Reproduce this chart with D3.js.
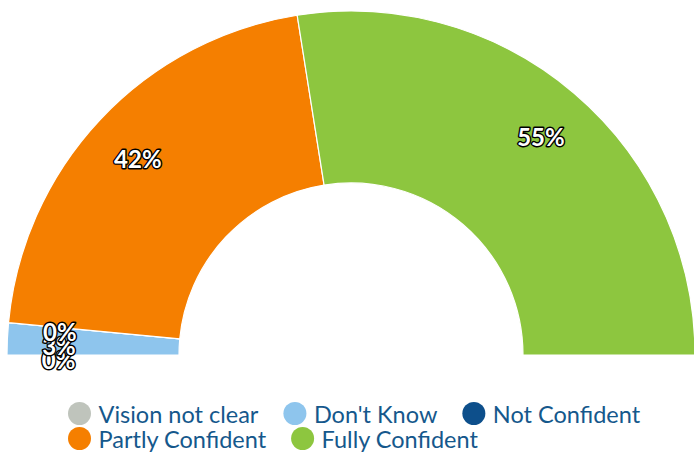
<!DOCTYPE html>
<html><head><meta charset="utf-8">
<script src="https://cdn.jsdelivr.net/npm/d3@7"></script>
<style>
html,body{margin:0;padding:0;background:#fff;}
svg{display:block;}
</style></head>
<body>
<svg id="chart" width="694" height="452"></svg>
<script>
const categories = ["Vision not clear", "Don't Know", "Not Confident", "Partly Confident", "Fully Confident"];
const values = [0, 3, 0, 42, 55];
const colors = ["#bfc4bc", "#8ec5ed", "#0d4f8b", "#f57f00", "#8dc63f"];

const W = 694, H = 452;
const cx = 351, cy = 355, outerR = 344, innerR = 172;
const svg = d3.select("#chart");

const data = categories.map((c, i) => ({name: c, value: values[i], color: colors[i]}));
const pie = d3.pie().value(d => d.value).sort(null)
  .startAngle(-Math.PI / 2).endAngle(Math.PI / 2);
const arcs = pie(data);
const arc = d3.arc().innerRadius(innerR).outerRadius(outerR);
const labelR = innerR + 0.7 * (outerR - innerR);
const labelArc = d3.arc().innerRadius(labelR).outerRadius(labelR);

const g = svg.append("g").attr("transform", `translate(${cx},${cy})`);
g.selectAll("path.slice").data(arcs).join("path")
  .attr("class", "slice")
  .attr("d", arc)
  .attr("fill", d => d.data.color)
  .attr("stroke", "#fff")
  .attr("stroke-width", 1.2)
  .attr("stroke-linejoin", "round");

g.selectAll("text.lbl").data(arcs).join("text")
  .attr("class", "lbl")
  .attr("x", d => labelArc.centroid(d)[0])
  .attr("y", d => labelArc.centroid(d)[1] + 4)
  .attr("text-anchor", "middle")
  .attr("dominant-baseline", "central")
  .attr("font-family", "Lato, sans-serif")
  .attr("font-weight", "bold")
  .attr("font-size", 24)
  .attr("fill", "#fff")
  .attr("stroke", "#000")
  .attr("stroke-width", 2.8)
  .attr("stroke-linejoin", "round")
  .attr("paint-order", "stroke")
  .text(d => d.data.value + "%");

// Legend
const legendRows = [[0, 1, 2], [3, 4]];
const legend = svg.append("g");
const rowY = [413.5, 438.5];
const startX = 68, r = 11.5, textGap = 7.5, itemGap = 25;
legendRows.forEach((row, ri) => {
  let x = startX;
  row.forEach(i => {
    const item = legend.append("g").attr("transform", `translate(${x},${rowY[ri]})`);
    item.append("circle").attr("cx", r).attr("cy", 0).attr("r", r).attr("fill", colors[i]);
    const t = item.append("text")
      .attr("x", 2 * r + textGap)
      .attr("y", 0)
      .attr("dominant-baseline", "central")
      .attr("font-family", "Lato, sans-serif")
      .attr("font-size", 23.5)
      .attr("fill", "#15588c")
      .text(categories[i]);
    x += 2 * r + textGap + t.node().getComputedTextLength() + itemGap;
  });
});
</script>
</body></html>
